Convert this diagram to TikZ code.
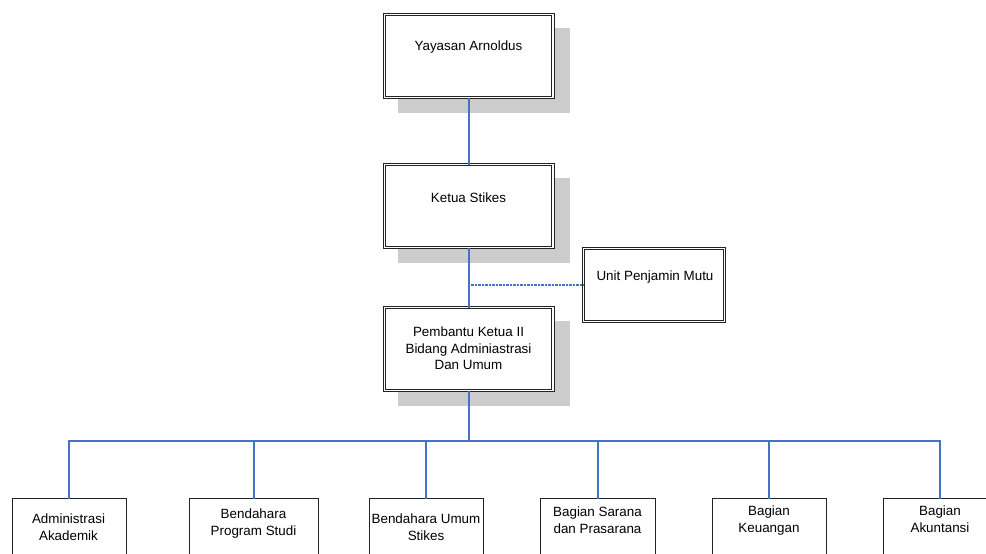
\documentclass[tikz,border=0pt]{standalone}
\usepackage{fontspec}
\setmainfont{Liberation Sans}
\usetikzlibrary{shadows}
\definecolor{linkblue}{RGB}{68,114,196}
\definecolor{boxline}{RGB}{35,35,35}
\begin{document}
\begin{tikzpicture}[x=1pt,y=-1pt,
  frame/.style={shape=rectangle,draw=boxline,double,line width=1pt,double distance=1.3pt,fill=white,inner sep=0pt,outer sep=0pt},
  topbox/.style={frame,minimum width=168.7pt,minimum height=83pt,drop shadow={shadow xshift=15pt,shadow yshift=-14pt,shadow scale=1.02,fill=black!20,opacity=1}},
  sidebox/.style={frame,minimum width=140.7pt,minimum height=72.7pt},
  unitbox/.style={shape=rectangle,draw=boxline,line width=1pt,fill=white,minimum height=80pt,anchor=north,inner sep=0pt,outer sep=0pt},
  txt/.style={align=center,font=\fontsize{13.4}{16.5}\selectfont,inner sep=0pt},
  link/.style={draw=linkblue,line width=2pt},
  dotlink/.style={draw=linkblue,line width=1.1pt,dash pattern=on 2.5pt off 1pt}]
\useasboundingbox (0,0) rectangle (986,554);
\clip (0,0) rectangle (986,554);
\node[topbox](yayasan) at (468.5,56){};
\node[txt](yayasan-t) at (468.5,47.5){Yayasan Arnoldus};
\node[topbox](ketua) at (468.5,206){};
\node[txt](ketua-t) at (468.5,197.5){Ketua Stikes};
\node[topbox](pk2) at (468.5,349){};
\node[txt](pk2-t) at (468.5,348.5){Pembantu Ketua II\\Bidang Adminiastrasi\\Dan Umum};
\node[sidebox](upm) at (654,285){};
\node[txt](upm-t) at (655,277.5){Unit Penjamin Mutu};
\node[unitbox,minimum width=114pt](adm) at (69,498.5){};
\node[txt](adm-t) at (68.5,527){Administrasi\\Akademik};
\node[unitbox,minimum width=129pt](bps) at (253.5,498.5){};
\node[txt](bps-t) at (253.5,523.4){Bendahara\\Program Studi};
\node[unitbox,minimum width=114pt](bum) at (426,498.5){};
\node[txt](bum-t) at (426,527){Bendahara Umum\\Stikes};
\node[unitbox,minimum width=115pt](sar) at (597.5,498.5){};
\node[txt](sar-t) at (597.5,520){Bagian Sarana\\dan Prasarana};
\node[unitbox,minimum width=114pt](keu) at (769,498.5){};
\node[txt](keu-t) at (769,520.4){Bagian\\Keuangan};
\node[unitbox,minimum width=114pt](aku) at (940,498.5){};
\node[txt](aku-t) at (940,519){Bagian\\Akuntansi};
\coordinate (bus) at (468.5,441);
\coordinate (tap) at (471,285);
\draw[link] (yayasan) -- (ketua);
\draw[link] (ketua) -- (pk2);
\draw[link] (pk2) -- (bus);
\foreach \n in {adm,bps,bum,sar,keu,aku}
  \draw[link] (\n.north) |- (bus);
\draw[dotlink] (tap) -- (upm.west);
\end{tikzpicture}
\end{document}
